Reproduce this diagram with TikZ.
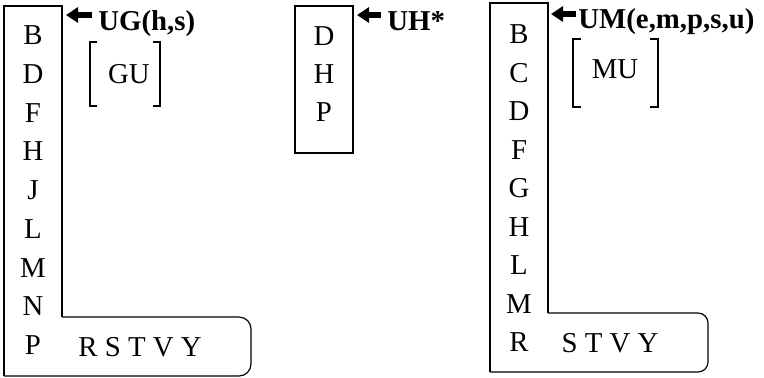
\documentclass[tikz,border=0pt]{standalone}
\usepackage{fontspec}
\setmainfont{Liberation Serif}
\usetikzlibrary{arrows.meta,positioning}

\tikzset{
  letter/.style={font=\fontsize{14.4}{17}\selectfont, inner sep=0pt, text height=9.5pt, text depth=0pt},
  tag/.style={font=\fontsize{14.4}{17}\selectfont\bfseries, inner sep=0pt, anchor=base west},
  pointer/.style={-{Triangle[length=6pt,width=7.5pt]}, line width=3pt},
  box/.style={line width=0.6pt}
}

\begin{document}
\begin{tikzpicture}[x=0.5pt, y=-0.5pt]
    \useasboundingbox (0,0) rectangle (764,377);

    % UG box
    \draw[box] (62,317) -- (62,6) -- (4,6) -- (4,376);
    \draw[box, rounded corners=6pt] (62,317) -- (251,317) -- (251,376) -- (4,376);
    \foreach \ch [count=\i from 0] in {B,D,F,H,J,L,M,N,P}
        \node[letter] (g-\ch) at (33, 35+38.75*\i) {\ch};
    \node[letter] (g-row) at (140,347) {R S T V Y};

    \coordinate (ugTip) at (66,15);
    \node[tag] (ugTag) at (98,30) {UG(h,s)};
    \draw[pointer] ([xshift=-3pt]ugTag.west |- ugTip) -- (ugTip);

    \draw[box] (97,42) -| (90,106) -- (97,106);
    \draw[box] (153,42) -| (160,106) -- (153,106);
    \node[letter] (gu) at (129,74) {GU};

    % UH box
    \draw[box] (295,6) rectangle (353,153);
    \foreach \ch [count=\i from 0] in {D,H,P}
        \node[letter] (h-\ch) at (324, 36+38*\i) {\ch};

    \coordinate (uhTip) at (357,15);
    \node[tag] (uhTag) at (387,30) {UH*};
    \draw[pointer] ([xshift=-3pt]uhTag.west |- uhTip) -- (uhTip);

    % UM box
    \draw[box] (548,313) -- (548,3) -- (490,3) -- (490,372);
    \draw[box, rounded corners=5pt] (548,313) -- (708,313) -- (708,372) -- (490,372);
    \foreach \ch [count=\i from 0] in {B,C,D,F,G,H,L,M,R}
        \node[letter] (m-\ch) at (519, 34+38.5*\i) {\ch};
    \node[letter] (m-row) at (610,343) {S T V Y};

    \coordinate (umTip) at (551,14);
    \node[tag] (umTag) at (578,28) {UM(e,m,p,s,u)};
    \draw[pointer] ([xshift=-1pt]umTag.west |- umTip) -- (umTip);

    \draw[box] (581,39) -| (573,107) -- (581,107);
    \draw[box] (650,39) -| (658,107) -- (650,107);
    \node[letter] (mu) at (615,69) {MU};
\end{tikzpicture}
\end{document}
